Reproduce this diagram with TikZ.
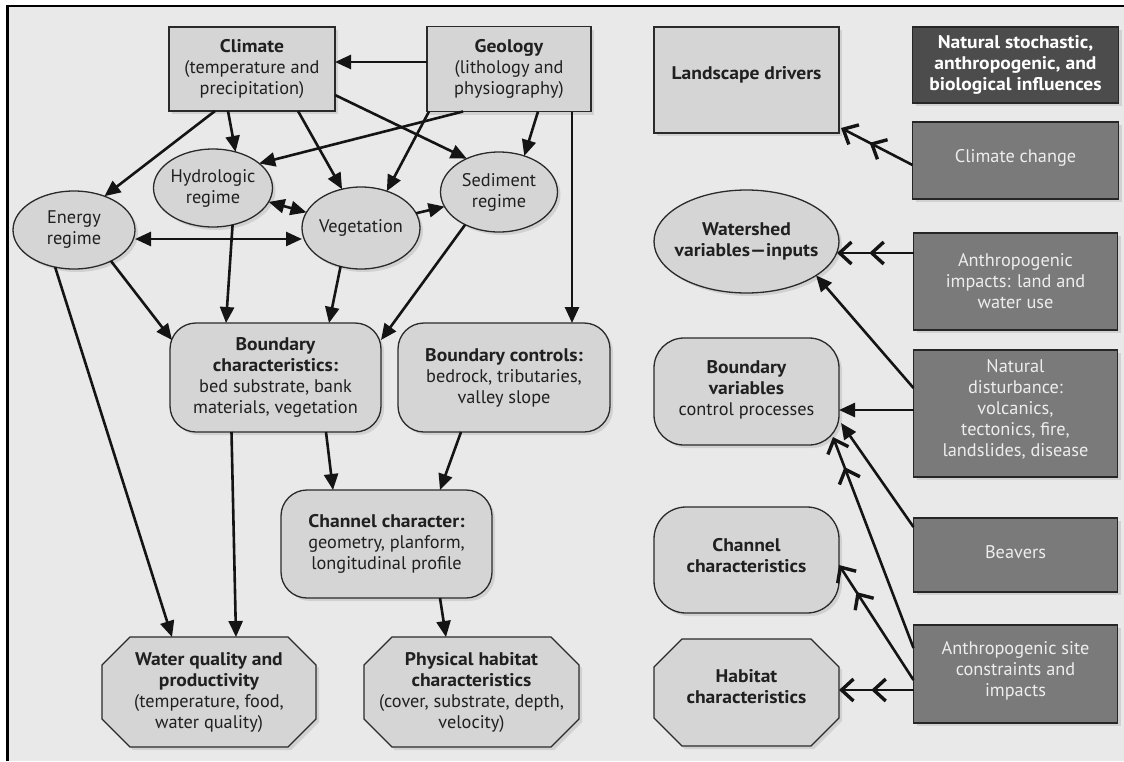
\documentclass[tikz,border=0pt]{standalone}
\usepackage{fontspec}
\setmainfont{PT Sans}[BoldFeatures={FakeStretch=1.07}]
\usetikzlibrary{arrows.meta,shadows,shapes.geometric}
\definecolor{bgc}{HTML}{E9E9E9}
\definecolor{nodefill}{HTML}{D5D5D5}
\definecolor{darkfill}{HTML}{4C4C4C}
\definecolor{midfill}{HTML}{7A7A7A}
\definecolor{txt}{HTML}{202020}
\definecolor{edgec}{HTML}{2A2A2A}
\pgfdeclarelayer{bg}
\pgfsetlayers{bg,main}
\tikzset{
  shad/.style={drop shadow={shadow xshift=3pt,shadow yshift=-3pt,opacity=0.22}},
  base/.style={draw=edgec, line width=1.3pt, fill=nodefill, inner sep=0pt, outer sep=0pt, shad},
  box/.style={base, rectangle},
  oval/.style={base, ellipse},
  rbox/.style={base, rectangle, rounded corners=26pt},
  dbox/.style={base, rectangle, fill=darkfill, draw=black!85},
  mbox/.style={base, rectangle, fill=midfill, draw=black!85},
  ghost/.style={rectangle, inner sep=0pt, outer sep=0pt},
  octo/.style={draw=edgec, line width=1.3pt, fill=nodefill, shad},
  sz/.style 2 args={minimum width=#1pt, minimum height=#2pt},
  lbl/.style={align=center, text=txt, inner sep=0pt, font=\fontsize{18.3}{21}\selectfont},
  wlbl/.style={lbl, text=white},
  llbl/.style={lbl, text=white!93!black},
  >={Triangle[length=16pt,width=14pt]},
  arr/.style={line width=2.6pt, draw=black!92, ->},
  arrtwo/.style={line width=2.6pt, draw=black!92, <->},
  barb/.tip={Straight Barb[length=12pt,width=22pt,line width=3.4pt,line cap=butt,line join=miter]},
  oarr/.style={line width=2.6pt, draw=black!92, -{barb[sep=16pt] barb}},
}
\begin{document}
\begin{tikzpicture}[x=1pt,y=-1pt]
\useasboundingbox (0,0) rectangle (1124,761);
\begin{pgfonlayer}{bg}
\fill[white] (0,0) rectangle (1124,761);
\fill[bgc] (7.5,6) rectangle (1124,761);
\end{pgfonlayer}
\draw[line width=2.6pt, black] (7.5,761) -- (7.5,6) -- (1124,6);

% ---------- left diagram ----------
\node[box, sz={166}{84}, label={[lbl]center:{\textbf{Climate}\\(temperature and\\precipitation)}}] (climate) at (252,69) {};
\node[box, sz={164}{85}, label={[lbl]center:{\textbf{Geology}\\(lithology and\\physiography)}}] (geology) at (509,69) {};
\node[oval, sz={119}{78}, label={[lbl]center:{Hydrologic\\regime}}] (hydro) at (213,188) {};
\node[oval, sz={122}{78}, label={[lbl]center:{Energy\\regime}}] (energy) at (74,230) {};
\node[oval, sz={118}{82}, label={[lbl]center:{Vegetation}}] (veg) at (361,228) {};
\node[oval, sz={117}{80}, label={[lbl]center:{Sediment\\regime}}] (sediment) at (499,192) {};
\node[rbox, sz={211}{109}, label={[lbl]center:{\textbf{Boundary}\\\textbf{characteristics:}\\bed substrate, bank\\materials, vegetation}}] (bc) at (275.5,377.5) {};
\node[rbox, sz={212}{109}, label={[lbl]center:{\textbf{Boundary controls:}\\bedrock, tributaries,\\valley slope}}] (bctrl) at (504,377.5) {};
\node[rbox, sz={211}{108}, label={[lbl]center:{\textbf{Channel character:}\\geometry, planform,\\longitudinal profile}}] (channel) at (386.5,544) {};
\node[ghost, sz={214}{110}, label={[lbl]center:{\textbf{Water quality and}\\\textbf{productivity}\\(temperature, food,\\water quality)}}] (wq) at (209,692) {};
\node[ghost, sz={215}{110}, label={[lbl]center:{\textbf{Physical habitat}\\\textbf{characteristics}\\(cover, substrate, depth,\\velocity)}}] (ph) at (471.5,692) {};

% ---------- right legend ----------
\node[box, sz={185}{106}, label={[lbl,yshift=5pt]center:{\textbf{Landscape drivers}}}] (landscape) at (746.5,80) {};
\node[oval, sz={185}{103}, label={[lbl]center:{\textbf{Watershed}\\\textbf{variables—inputs}}}] (watershed) at (746.5,241.5) {};
\node[rbox, rounded corners=30pt, sz={185}{107}, label={[lbl,yshift=2pt]center:{\textbf{Boundary}\\\textbf{variables}\\control processes}}] (bv) at (746.5,391.5) {};
\node[rbox, rounded corners=32pt, sz={185}{106}, label={[lbl,yshift=4pt]center:{\textbf{Channel}\\\textbf{characteristics}}}] (chanchar) at (746.5,560) {};
\node[ghost, sz={185}{107}, label={[lbl,yshift=6pt]center:{\textbf{Habitat}\\\textbf{characteristics}}}] (habitat) at (746.5,692.5) {};

\node[dbox, sz={206}{76}, label={[wlbl]center:{\textbf{Natural stochastic,}\\\textbf{anthropogenic, and}\\\textbf{biological influences}}}] (natural) at (1015.5,65) {};
\node[mbox, sz={206}{77}, label={[llbl,yshift=3pt]center:{Climate change}}] (climchange) at (1015.5,160.5) {};
\node[mbox, sz={204}{97}, label={[llbl]center:{Anthropogenic\\impacts: land and\\water use}}] (anthimp) at (1015.5,281.5) {};
\node[mbox, sz={204}{127}, label={[llbl,yshift=4pt]center:{Natural\\disturbance:\\volcanics,\\tectonics, fire,\\landslides, disease}}] (natdist) at (1015.5,413.5) {};
\node[mbox, sz={204}{74}, label={[llbl,yshift=3pt]center:{Beavers}}] (beavers) at (1015.5,555) {};
\node[mbox, sz={204}{98}, label={[llbl,yshift=3pt]center:{Anthropogenic site\\constraints and\\impacts}}] (anthsite) at (1015.5,674) {};

% ---------- octagon outlines ----------
\begin{pgfonlayer}{bg}
\foreach \n/\c in {wq/28pt, ph/28pt, habitat/28pt}{
  \path[octo] ([xshift=\c]\n.north west) -- ([xshift=-\c]\n.north east) -- ([yshift=-\c]\n.north east)
    -- ([yshift=\c]\n.south east) -- ([xshift=-\c]\n.south east) -- ([xshift=\c]\n.south west)
    -- ([yshift=\c]\n.south west) -- ([yshift=-\c]\n.north west) -- cycle;
}
\end{pgfonlayer}

% ---------- connectors, left ----------
\draw[arr] ([yshift=7pt]geology.west) -- ([yshift=7pt]climate.east);
\draw[arr] ([xshift=-37pt]climate.south) -- (energy.48);
\draw[arr] ([xshift=-24pt]climate.south) -- (hydro.58);
\draw[arr] ([xshift=46pt]climate.south) -- (veg.116);
\draw[arr] ([yshift=-26pt]climate.east) -- (sediment.134);
\draw[arr] ([xshift=-46pt]geology.south) -- (hydro.28);
\draw[arr] ([xshift=-80pt]geology.south) -- (veg.55);
\draw[arr] ([xshift=29pt]geology.south) -- (sediment.55);
\draw[arr] ([xshift=63pt]geology.south) -- ([xshift=63pt]geology.south |- bctrl.north);
\draw[arrtwo] (hydro.-14) -- (veg.164);
\draw[arr] (veg.15) -- (sediment.195);
\draw[arrtwo] ([yshift=-9pt]energy.east) -- ([yshift=-11pt]veg.west);
\draw[arr] (energy.-40) -- ([xshift=2pt,yshift=-17pt]bc.north west);
\draw[arr] (hydro.-62) -- ([xshift=-49.5pt]bc.north);
\draw[arr] (veg.-118) -- ([xshift=53.5pt]bc.north);
\draw[arr] (sediment.-136) -- ([yshift=-17pt]bc.north east);
\draw[arr] ([xshift=-44pt]bc.south) -- ([xshift=27pt]wq.north);
\draw[arr] (energy.-117) -- ([xshift=-37pt]wq.north);
\draw[arr] ([xshift=50.5pt]bc.south) -- ([xshift=-53.5pt]channel.north);
\draw[arr] ([xshift=-43pt]bctrl.south) -- ([xshift=53.5pt]channel.north);
\draw[arr] ([xshift=53.5pt]channel.south) -- ([xshift=-25.5pt]ph.north);

% ---------- connectors, right ----------
\draw[oarr] ([yshift=-4.5pt]climchange.west) -- ([xshift=2pt,yshift=5pt]landscape.south east);
\draw[oarr] ([yshift=28.5pt]anthimp.west) -- ([xshift=-2pt,yshift=-11.5pt]watershed.east);
\draw[arr] ([yshift=25.5pt]natdist.west) -- (watershed.-26);
\draw[arr] ([yshift=3.5pt]natdist.west) -- ([yshift=-18.5pt]bv.east);
\draw[arr] ([yshift=28pt]beavers.west) -- ([xshift=2pt,yshift=22pt]bv.south east);
\draw[oarr] ([yshift=26pt]anthsite.west) -- ([xshift=-6pt,yshift=8pt]bv.south east);
\draw[oarr] ([yshift=-6pt]anthsite.west) -- ([yshift=-5pt]chanchar.east);
\draw[oarr] ([yshift=-16pt]anthsite.west) -- ([yshift=2.5pt]habitat.east);
\end{tikzpicture}
\end{document}
